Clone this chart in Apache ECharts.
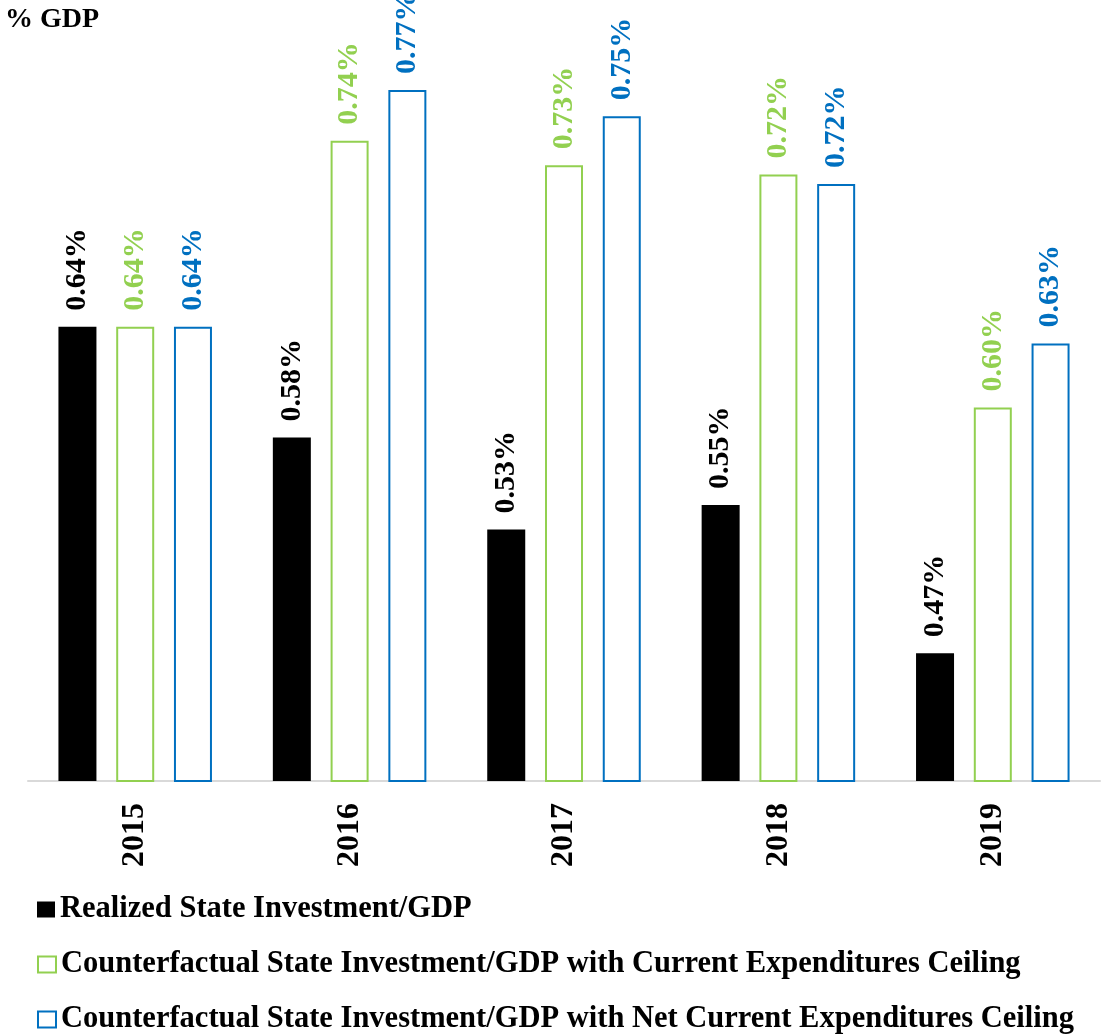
<!DOCTYPE html>
<html>
<head>
<meta charset="utf-8">
<script src="https://cdn.jsdelivr.net/npm/echarts@6/dist/echarts.min.js"></script>
<style>
  html, body { margin: 0; padding: 0; background: #fff; }
  #chart { width: 1102px; height: 1034px; }
</style>
</head>
<body>
<div id="chart"></div>
<script>
const years = ['2015', '2016', '2017', '2018', '2019']
const seriesNames = [
  'Realized State Investment/GDP',
  'Counterfactual State Investment/GDP with Current Expenditures Ceiling',
  'Counterfactual State Investment/GDP with Net Current Expenditures Ceiling'
]
// % of GDP (labels round to 2 decimals)
const realized = [0.642, 0.583, 0.534, 0.547, 0.468]
const currentCeiling = [0.642, 0.741, 0.728, 0.723, 0.599]
const netCurrentCeiling = [0.642, 0.768, 0.754, 0.718, 0.633]

const FONT = 'Liberation Serif'
const GREEN = '#92d050'
const BLUE = '#0070c0'

function makeSeries (name, values, fill, border, labelColor) {
  return {
    name: name,
    type: 'bar',
    data: values,
    barWidth: 38,
    barGap: '52%',
    itemStyle: {
      color: fill,
      borderColor: border,
      borderWidth: fill === border ? 0 : 2
    },
    label: {
      show: true,
      position: 'top',
      rotate: 90,
      align: 'left',
      verticalAlign: 'middle',
      distance: 16,
      fontFamily: FONT,
      fontWeight: 'bold',
      fontSize: 30,
      color: labelColor,
      formatter: function (p) {
        return (Math.round(p.value * 100) / 100).toFixed(2) + '%'
      }
    }
  }
}

// one legend per row so the rows never wrap into columns
function makeLegend (name, top, itemStyle) {
  return {
    orient: 'vertical',
    left: 37,
    top: top,
    padding: 0,
    itemWidth: 18,
    itemHeight: 16,
    icon: 'rect',
    textStyle: { fontFamily: FONT, fontWeight: 'bold', fontSize: 30.5, color: '#000' },
    data: [{ name: name, itemStyle: itemStyle }]
  }
}

const chart = echarts.init(document.getElementById('chart'))
chart.setOption({
  animation: false,
  title: {
    text: '% GDP',
    left: 5,
    top: 6,
    padding: 0,
    textStyle: { fontFamily: FONT, fontWeight: 'bold', fontSize: 28, color: '#000' }
  },
  grid: {
    left: 28,
    right: 2,
    top: 30,
    bottom: 253,
    containLabel: false
  },
  legend: [
    makeLegend(seriesNames[0], 894, { color: '#000' }),
    makeLegend(seriesNames[1], 949, { color: '#fff', borderColor: GREEN, borderWidth: 2 }),
    makeLegend(seriesNames[2], 1004, { color: '#fff', borderColor: BLUE, borderWidth: 2 })
  ],
  xAxis: {
    type: 'category',
    data: years,
    axisLine: { show: true, lineStyle: { color: '#d9d9d9', width: 2 } },
    axisTick: { show: false },
    axisLabel: {
      rotate: 90,
      margin: 22,
      fontFamily: FONT,
      fontWeight: 'bold',
      fontSize: 32,
      color: '#000'
    }
  },
  yAxis: {
    type: 'value',
    min: 0.4,
    max: 0.8,
    show: false,
    splitLine: { show: false }
  },
  series: [
    makeSeries(seriesNames[0], realized, '#000', '#000', '#000'),
    makeSeries(seriesNames[1], currentCeiling, '#fff', GREEN, GREEN),
    makeSeries(seriesNames[2], netCurrentCeiling, '#fff', BLUE, BLUE)
  ]
})
</script>
</body>
</html>
